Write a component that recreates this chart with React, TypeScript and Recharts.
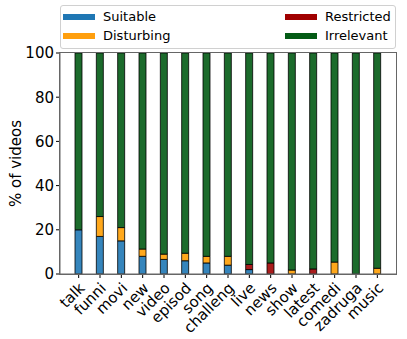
import React from 'react';
import { BarChart, Bar, XAxis, YAxis, Label } from 'recharts';

const categories = ['talk', 'funni', 'movi', 'new', 'video', 'episod', 'song', 'challeng', 'live', 'news', 'show', 'latest', 'comedi', 'zadruga', 'music'];
const suitable = [20, 17, 15, 8, 6.6, 6, 5, 4, 2, 0, 0, 0, 0, 0, 0];
const disturbing = [0, 9, 6, 3.3, 2.4, 3.4, 3, 4, 0, 0, 1.8, 0, 5.4, 0, 2.6];
const restricted = [0, 0, 0, 0, 0, 0, 0, 0, 2.3, 5, 0, 2.3, 0, 0, 0];
const irrelevant = [80, 74, 79, 88.7, 91, 90.6, 92, 92, 95.7, 95, 98.2, 97.7, 94.6, 100, 97.4];
const yTicks = [0, 20, 40, 60, 80, 100];

const data = categories.map((c, i) => ({
  name: c,
  suitable: suitable[i],
  disturbing: disturbing[i],
  restricted: restricted[i],
  irrelevant: irrelevant[i],
}));

const FONT = 'DejaVu Sans, sans-serif';

const series = [
  { key: 'suitable', label: 'Suitable', fill: '#3585bc', legend: '#1f77b4' },
  { key: 'disturbing', label: 'Disturbing', fill: '#ffa81c', legend: '#ff9f0e' },
  { key: 'restricted', label: 'Restricted', fill: '#aa1c1c', legend: '#a00000' },
  { key: 'irrelevant', label: 'Irrelevant', fill: '#1c6b2c', legend: '#045b15' },
];

const XTick = (props: any) => {
  const { x, y, payload } = props;
  const ax = x + 7;
  const ay = y + 9;
  return (
    <text
      x={ax}
      y={ay}
      textAnchor="end"
      transform={`rotate(-45, ${ax}, ${ay})`}
      fontFamily={FONT}
      fontSize={15}
      fill="#000"
    >
      {payload.value}
    </text>
  );
};

const LegendItem = ({ color, label, x, y }: any) => (
  <div style={{ position: 'absolute', left: x, top: y, display: 'flex', alignItems: 'center', height: 18 }}>
    <div style={{ width: 32, height: 6, background: color }} />
    <span style={{ marginLeft: 8, fontFamily: FONT, fontSize: 13, color: '#000', lineHeight: '18px' }}>{label}</span>
  </div>
);

export default function App() {
  return (
    <div style={{ position: 'absolute', left: 0, top: 0, width: 407, height: 339, background: '#fff' }}>
      <BarChart
        width={407}
        height={339}
        data={data}
        margin={{ top: 53, right: 11, left: 15, bottom: 5 }}
        barCategoryGap={0}
      >
        <XAxis
          dataKey="name"
          interval={0}
          height={60}
          padding={{ left: 8, right: 8 }}
          tick={<XTick />}
          tickLine={{ stroke: '#000' }}
          tickSize={4}
          axisLine={{ stroke: '#666' }}
        />
        <YAxis
          domain={[0, 100]}
          ticks={yTicks}
          width={45}
          tickSize={4}
          tickLine={{ stroke: '#000' }}
          axisLine={{ stroke: '#666' }}
          tick={{ fontFamily: FONT, fontSize: 15, fill: '#000' }}
          allowDataOverflow
        >
          <Label value="% of videos" angle={-90} position="insideLeft" offset={1} style={{ fontFamily: FONT, fontSize: 15, fill: '#000', textAnchor: 'middle' }} />
        </YAxis>
        {series.map((s) => (
          <Bar
            key={s.key}
            dataKey={s.key}
            stackId="a"
            fill={s.fill}
            stroke="#000"
            strokeWidth={0.8}
            barSize={7}
            isAnimationActive={false}
          />
        ))}
      </BarChart>
      <div
        style={{
          position: 'absolute',
          left: 59,
          top: 52,
          width: 338,
          height: 223,
          border: '1px solid #666',
          boxSizing: 'border-box',
          pointerEvents: 'none',
        }}
      />
      <div
        style={{
          position: 'absolute',
          left: 60,
          top: 5,
          width: 334,
          height: 42,
          border: '1px solid #d0d0d0',
          borderRadius: 3,
          background: 'rgba(255,255,255,0.8)',
        }}
      >
        <LegendItem color={series[0].legend} label={series[0].label} x={2} y={2} />
        <LegendItem color={series[1].legend} label={series[1].label} x={2} y={21} />
        <LegendItem color={series[2].legend} label={series[2].label} x={224} y={2} />
        <LegendItem color={series[3].legend} label={series[3].label} x={224} y={21} />
      </div>
    </div>
  );
}
